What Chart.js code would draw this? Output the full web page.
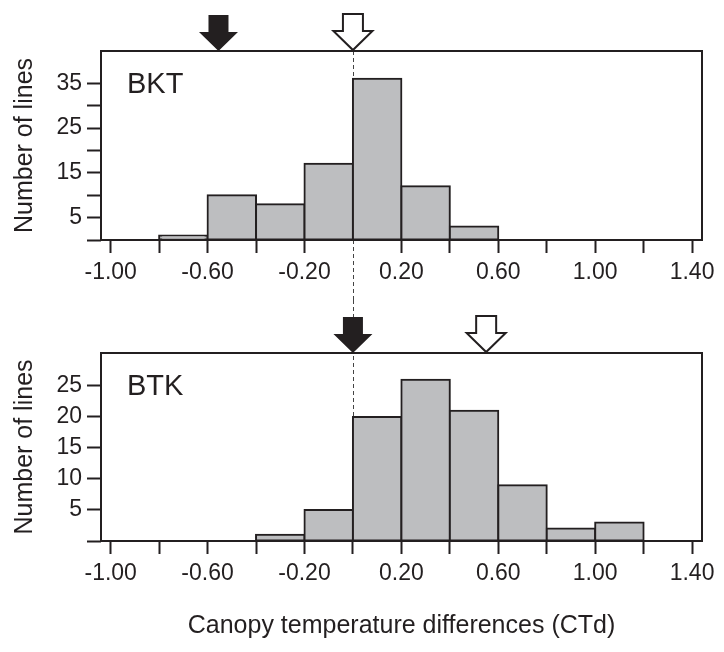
<!DOCTYPE html>
<html>
<head>
<meta charset="utf-8">
<script src="https://cdn.jsdelivr.net/npm/chart.js@4.4.0/dist/chart.umd.min.js"></script>
<style>
  html, body { margin: 0; padding: 0; background: #fff; }
  #wrap { position: relative; width: 724px; height: 652px; }
  canvas { position: absolute; left: 0; }
  #topChart { top: 0; }
  #bottomChart { top: 300px; }
</style>
</head>
<body>
<div id="wrap">
  <canvas id="topChart" width="724" height="300"></canvas>
  <canvas id="bottomChart" width="724" height="352"></canvas>
</div>
<script>
// histogram bins (left edges, width 0.2) and counts
const binWidth = 0.2;
const bktBins = [-0.8, -0.6, -0.4, -0.2, 0.0, 0.2, 0.4];
const bktCounts = [1, 10, 8, 17, 36, 12, 3];
const btkBins = [-0.4, -0.2, 0.0, 0.2, 0.4, 0.6, 0.8, 1.0];
const btkCounts = [1, 5, 20, 26, 21, 9, 2, 3];

// x ticks every 0.2, labelled every 0.4
const xTicks = [-1.0, -0.8, -0.6, -0.4, -0.2, 0, 0.2, 0.4, 0.6, 0.8, 1.0, 1.2, 1.4];
const xTickLabels = ['-1.00', '', '-0.60', '', '-0.20', '', '0.20', '', '0.60', '', '1.00', '', '1.40'];

const bktYTicks = [0, 5, 10, 15, 20, 25, 30, 35];
const bktYLabels = ['', '5', '', '15', '', '25', '', '35'];
const btkYTicks = [0, 5, 10, 15, 20, 25];
const btkYLabels = ['', '5', '10', '15', '20', '25'];

// arrow markers above each panel (BKT, BTK)
const filledArrowX = [-0.555, 0.0];
const openArrowX = [0.0, 0.55];

const ink = '#231f20';
const barGray = '#bdbec0';
Chart.defaults.font.family = '"Liberation Sans", Arial, Helvetica, sans-serif';
Chart.defaults.color = ink;

// frame round the plot area, panel name
const framePlugin = {
  id: 'frame',
  afterDatasetsDraw(chart, args, opts) {
    const { ctx, chartArea: a } = chart;
    ctx.save();
    ctx.strokeStyle = ink;
    ctx.lineWidth = 2;
    ctx.strokeRect(a.left, a.top, a.right - a.left, a.bottom - a.top);
    ctx.fillStyle = ink;
    ctx.font = '29px "Liberation Sans", Arial, sans-serif';
    ctx.textBaseline = 'alphabetic';
    ctx.fillText(opts.name, a.left + 26, a.top + 42);
    ctx.restore();
  }
};

// dashed reference line at x = 0
const zeroLinePlugin = {
  id: 'zeroLine',
  beforeDatasetsDraw(chart, args, opts) {
    const { ctx, chartArea: a, scales } = chart;
    const x = Math.round(scales.x.getPixelForValue(0)) + 0.5;
    ctx.save();
    ctx.strokeStyle = '#444';
    ctx.lineWidth = 1;
    ctx.setLineDash([4, 3]);
    ctx.beginPath();
    if (opts.panel === 'top') {
      ctx.moveTo(x, a.top);
      ctx.lineTo(x, chart.height);
    } else {
      ctx.moveTo(x, 0);
      ctx.lineTo(x, a.bottom);
    }
    ctx.stroke();
    ctx.restore();
  }
};

function arrowPath(ctx, x, tip) {
  ctx.beginPath();
  ctx.moveTo(x - 10, tip - 36);
  ctx.lineTo(x + 10, tip - 36);
  ctx.lineTo(x + 10, tip - 19);
  ctx.lineTo(x + 19.5, tip - 19);
  ctx.lineTo(x, tip);
  ctx.lineTo(x - 19.5, tip - 19);
  ctx.lineTo(x - 10, tip - 19);
  ctx.closePath();
}

const arrowPlugin = {
  id: 'arrows',
  afterDraw(chart, args, opts) {
    const { ctx, chartArea: a, scales } = chart;
    ctx.save();
    ctx.lineWidth = 2;
    ctx.lineJoin = 'miter';
    ctx.strokeStyle = ink;
    arrowPath(ctx, scales.x.getPixelForValue(opts.filled), a.top);
    ctx.fillStyle = ink;
    ctx.fill();
    arrowPath(ctx, scales.x.getPixelForValue(opts.open), a.top - 1);
    ctx.fillStyle = '#fff';
    ctx.fill();
    ctx.stroke();
    ctx.restore();
  }
};

function makeChart(id, cfg) {
  return new Chart(document.getElementById(id), {
    type: 'bar',
    data: {
      datasets: [{
        data: cfg.bins.map((b, i) => ({ x: b + binWidth / 2, y: cfg.counts[i] })),
        backgroundColor: barGray,
        borderColor: ink,
        borderWidth: 2,
        borderSkipped: false,
        inflateAmount: 1,
        barPercentage: 1,
        categoryPercentage: 1
      }]
    },
    options: {
      responsive: false,
      animation: false,
      layout: { padding: { top: cfg.top, right: 22, left: 0, bottom: 0 } },
      plugins: {
        legend: { display: false },
        tooltip: { enabled: false },
        frame: { name: cfg.name },
        zeroLine: { panel: cfg.panel },
        arrows: { filled: cfg.filled, open: cfg.open }
      },
      scales: {
        x: {
          type: 'linear',
          min: -1.04,
          max: 1.441,
          offset: false,
          afterBuildTicks: s => { s.ticks = xTicks.map(v => ({ value: v })); },
          afterFit: s => { s.height = cfg.xHeight; s.paddingLeft = 0; s.paddingRight = 0; },
          grid: {
            offset: false,
            drawOnChartArea: false,
            tickLength: 13,
            tickWidth: 2,
            tickColor: c => (cfg.panel === 'top' && c.tick && c.tick.value === 0) ? 'rgba(0,0,0,0)' : ink
          },
          border: { display: false },
          ticks: {
            autoSkip: false,
            maxRotation: 0,
            padding: 6,
            color: ink,
            font: { size: 23 },
            callback: (v, i) => xTickLabels[i]
          },
          title: cfg.xTitle ? {
            display: true,
            text: cfg.xTitle,
            color: ink,
            font: { size: 25 },
            padding: { top: 0, bottom: 11 }
          } : { display: false }
        },
        y: {
          min: 0,
          max: cfg.yMax,
          afterBuildTicks: s => { s.ticks = cfg.yTicks.map(v => ({ value: v })); },
          afterFit: s => { s.width = 101; s.paddingTop = 0; s.paddingBottom = 0; },
          grid: { drawOnChartArea: false, tickLength: 14, tickWidth: 2, tickColor: ink },
          border: { display: false },
          ticks: {
            autoSkip: false,
            padding: 5,
            color: ink,
            font: { size: 23 },
            callback: (v, i) => cfg.yLabels[i]
          },
          title: {
            display: true,
            text: 'Number of lines',
            color: ink,
            font: { size: 25 },
            padding: { top: 10, bottom: 0 }
          }
        }
      }
    },
    plugins: [zeroLinePlugin, framePlugin, arrowPlugin]
  });
}

makeChart('topChart', {
  panel: 'top', name: 'BKT', bins: bktBins, counts: bktCounts,
  yTicks: bktYTicks, yLabels: bktYLabels, yMax: 42.2,
  top: 51, xHeight: 60, filled: filledArrowX[0], open: openArrowX[0]
});

makeChart('bottomChart', {
  panel: 'bottom', name: 'BTK', bins: btkBins, counts: btkCounts,
  yTicks: btkYTicks, yLabels: btkYLabels, yMax: 30.3,
  top: 53, xHeight: 111, filled: filledArrowX[1], open: openArrowX[1],
  xTitle: 'Canopy temperature differences (CTd)'
});
</script>
</body>
</html>
